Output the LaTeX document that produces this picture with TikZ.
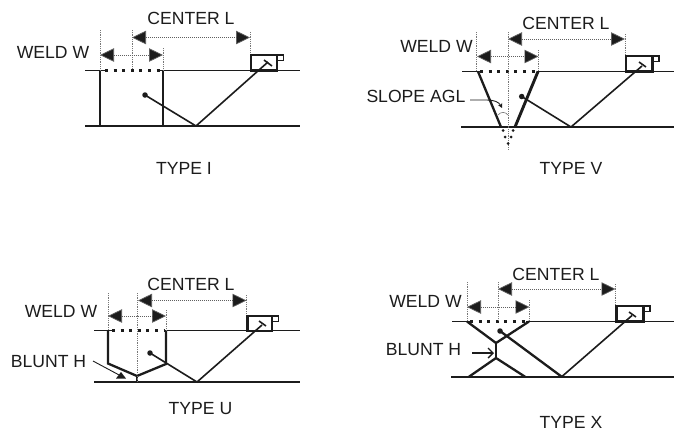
\documentclass[tikz,border=0pt]{standalone}
\usepackage{fontspec}
\setmainfont{Liberation Sans}
\usetikzlibrary{arrows.meta}
\definecolor{ink}{HTML}{1C1C1C}
\tikzset{
  x=1pt,y=-1pt,
  label text/.style={inner sep=0pt,text=ink,font=\fontsize{17.6}{20}\selectfont},
  plate/.style={draw=ink,line width=1.8pt},
  plate heavy/.style={draw=ink,line width=2.4pt},
  wall/.style={draw=ink,line width=2.3pt,line join=miter},
  wall heavy/.style={draw=ink,line width=2.9pt,line join=miter},
  ray/.style={draw=ink,line width=1.6pt},
  weld dots/.style={draw=ink,line width=2.1pt,dash pattern=on 3pt off 5.6pt},
  guide/.style={draw=ink!60,line width=.6pt,dash pattern=on .9pt off .9pt},
  dimline/.style={draw=ink!70,line width=.7pt,dash pattern=on 1pt off 1pt,
     {Triangle[length=14pt,width=13.5pt,fill=ink]}-{Triangle[length=14pt,width=13.5pt,fill=ink]}},
  probe box/.style={draw=ink,line width=2.1pt,fill=none},
  probe tab/.style={draw=ink,line width=1.5pt},
  focus dot/.style={circle,fill=ink,inner sep=0pt,minimum size=5.5pt},
  cue/.style={draw=ink,line width=.9pt}
}
\newcommand{\probeset}[5]{%
  \coordinate (#1bl) at (#2,#5);
  \coordinate (#1tr) at (#3,#4);
  \draw[probe box] (#1bl) rectangle (#1tr);
  \coordinate (#1ta) at (#3,#4);
  \coordinate (#1tb) at ({#3+6.5},{#4+5.5});
  \draw[probe tab] (#1ta) rectangle (#1tb);
}
\begin{document}
\begin{tikzpicture}
\useasboundingbox (0,0) rectangle (674,432);
\fill[white] (0,0) rectangle (674,432);

%% TYPE I
\coordinate (Ia) at (85,70.5); \coordinate (Ib) at (105,70.5); \coordinate (Ic) at (160,70.5); \coordinate (Id) at (300,70.5);
\coordinate (Ie) at (85,126); \coordinate (If) at (300,126);
\draw[plate] (Ia)--(Ib); \draw[plate] (Ic)--(Id); \draw[plate] (Ie)--(If);
\draw[weld dots] (Ib)--(Ic);
\coordinate (Iw1) at (100,70.5); \coordinate (Iw2) at (100,126); \coordinate (Iw3) at (163,70.5); \coordinate (Iw4) at (163,126);
\draw[wall] (Iw1)--(Iw2); \draw[wall] (Iw3)--(Iw4);
\coordinate (Ig1) at (100,30); \coordinate (Ig2) at (132,30); \coordinate (Ig3) at (132,68); \coordinate (Ig4) at (163,48); \coordinate (Ig5) at (250,32); \coordinate (Ig6) at (250,55);
\draw[guide] (Ig1)--(Iw1); \draw[guide] (Ig2)--(Ig3); \draw[guide] (Ig4)--(Iw3); \draw[guide] (Ig5)--(Ig6);
\coordinate (Id1) at (132,37.5); \coordinate (Id2) at (250,37.5); \coordinate (Id3) at (100,55); \coordinate (Id4) at (163,55);
\draw[dimline] (Id1)--(Id2); \draw[dimline] (Id3)--(Id4);
\probeset{Ip}{251}{277}{55}{70.5}
\node[focus dot] (Ifoc) at (145,95) {};
\coordinate (Ibn) at (196,126); \coordinate (Ipr) at (268,62); \coordinate (Ih1) at (264,60); \coordinate (Ih2) at (272,66);
\draw[ray] (Ifoc.center)--(Ibn)--(Ipr); \draw[ray] (Ih1)--(Ih2);
\node[label text] (Itw) at (53,52) {WELD W};
\node[label text] (Itc) at (191,18) {CENTER L};
\node[label text] (Itt) at (184,168) {TYPE I};

%% TYPE V
\coordinate (Va) at (462,71.5); \coordinate (Vb) at (480,71.5); \coordinate (Vc) at (537,71.5); \coordinate (Vd) at (674,71.5);
\coordinate (Ve) at (461,127); \coordinate (Vf) at (674,127);
\draw[plate] (Va)--(Vb); \draw[plate] (Vc)--(Vd); \draw[plate] (Ve)--(Vf);
\draw[weld dots] (Vb)--(Vc);
\coordinate (Vw1) at (478,71.5); \coordinate (Vw2) at (501,127); \coordinate (Vw3) at (538,71.5); \coordinate (Vw4) at (515,127);
\draw[wall] (Vw1)--(Vw2); \draw[wall heavy] (Vw3)--(Vw4);
\coordinate (Vg1) at (476.5,32); \coordinate (Vg1b) at (476.5,71); \coordinate (Vg2) at (508,32); \coordinate (Vg3) at (508,150); \coordinate (Vg4) at (538.5,50); \coordinate (Vg4b) at (538.5,71); \coordinate (Vg5) at (625,34); \coordinate (Vg6) at (625,56);
\draw[guide] (Vg1)--(Vg1b); \draw[guide] (Vg2)--(Vg3); \draw[guide] (Vg4)--(Vg4b); \draw[guide] (Vg5)--(Vg6);
\coordinate (Vd1) at (508,39); \coordinate (Vd2) at (625,39); \coordinate (Vd3) at (477,56.5); \coordinate (Vd4) at (538.5,56.5);
\draw[dimline] (Vd1)--(Vd2); \draw[dimline] (Vd3)--(Vd4);
\probeset{Vp}{626}{652.5}{56}{71.5}
\node[focus dot] (Vfoc) at (521.7,96.5) {};
\coordinate (Vbn) at (571,127); \coordinate (Vpr) at (642,66); \coordinate (Vh1) at (639,62); \coordinate (Vh2) at (646,67);
\draw[ray] (Vfoc.center)--(Vbn)--(Vpr); \draw[ray] (Vh1)--(Vh2);
\foreach \i/\dx/\dy in {1/503/130.5,2/513/130.5,3/505/137,4/511/137,5/508/143.5}
  \node[circle,fill=ink,inner sep=0pt,minimum size=3pt] (Vdot\i) at (\dx,\dy) {};
\node[label text] (Vtw) at (436.5,46) {WELD W};
\node[label text] (Vtc) at (566,23) {CENTER L};
\node[label text] (Vtt) at (571,168) {TYPE V};
\node[label text,anchor=east] (Vts) at (465.5,96) {SLOPE AGL};
\coordinate (Vs1) at (470,100); \coordinate (Vs2) at (487,100); \coordinate (Vs3) at (502,108);
\draw[cue,-{Stealth[length=4.5pt,width=4.5pt]}] (Vs1)--(Vs2) .. controls (494,100) and (499,102) .. (Vs3);
\coordinate (Va1) at (498,115); \coordinate (Va2) at (508,115);
\draw[draw=ink!70,line width=.5pt] (Va1) .. controls (501,111.5) and (505,111.5) .. (Va2);

%% TYPE U
\coordinate (Ua) at (94,330.5); \coordinate (Ub) at (112,330.5); \coordinate (Uc) at (164,330.5); \coordinate (Ud) at (300,330.5);
\coordinate (Ue) at (94,382); \coordinate (Uf) at (300,382);
\draw[plate] (Ua)--(Ub); \draw[plate] (Uc)--(Ud); \draw[plate] (Ue)--(Uf);
\draw[weld dots] (Ub)--(Uc);
\coordinate (Uw1) at (108,330.5); \coordinate (Uw2) at (108,363.5); \coordinate (Uw3) at (137,376); \coordinate (Uw4) at (166,364); \coordinate (Uw5) at (166,330.5); \coordinate (Uw6) at (137,382);
\draw[wall] (Uw1)--(Uw2)--(Uw3)--(Uw4)--(Uw5); \draw[wall] (Uw3)--(Uw6);
\coordinate (Ug1) at (108,293); \coordinate (Ug1b) at (108,330); \coordinate (Ug2) at (137.5,293); \coordinate (Ug3) at (137.5,382); \coordinate (Ug4) at (166,310); \coordinate (Ug4b) at (166,330); \coordinate (Ug5) at (246.5,295); \coordinate (Ug6) at (246.5,316);
\draw[guide] (Ug1)--(Ug1b); \draw[guide] (Ug2)--(Ug3); \draw[guide] (Ug4)--(Ug4b); \draw[guide] (Ug5)--(Ug6);
\coordinate (Ud1) at (138,300.5); \coordinate (Ud2) at (246.5,300.5); \coordinate (Ud3) at (108,316); \coordinate (Ud4) at (166,316);
\draw[dimline] (Ud1)--(Ud2); \draw[dimline] (Ud3)--(Ud4);
\probeset{Up}{247.5}{272}{316}{331}
\node[focus dot] (Ufoc) at (150,353) {};
\coordinate (Ubn) at (197,382); \coordinate (Upr) at (262,325); \coordinate (Uh1) at (259,321); \coordinate (Uh2) at (266,326);
\draw[ray] (Ufoc.center)--(Ubn)--(Upr); \draw[ray] (Uh1)--(Uh2);
\node[label text] (Utw) at (61,311) {WELD W};
\node[label text] (Utc) at (191,284) {CENTER L};
\node[label text] (Utt) at (200.5,409) {TYPE U};
\node[label text] (Utb) at (48.5,362) {BLUNT H};
\coordinate (Ul1) at (93,361); \coordinate (Ul2) at (121,376);
\draw[cue] (Ul1)--(Ul2);
\coordinate (Ut1) at (116,378.5); \coordinate (Ut2) at (126,378.5); \coordinate (Ut3) at (121,372);
\fill[ink] (Ut1)--(Ut2)--(Ut3)--cycle;

%% TYPE X
\coordinate (Xa) at (452,321.5); \coordinate (Xb) at (470,321.5); \coordinate (Xc) at (526,321.5); \coordinate (Xd) at (674,321.5);
\coordinate (Xe) at (451,376.7); \coordinate (Xf) at (674,376.7);
\draw[plate] (Xa)--(Xb); \draw[plate] (Xc)--(Xd); \draw[plate heavy] (Xe)--(Xf);
\draw[weld dots] (Xb)--(Xc);
\coordinate (Xw1) at (467,321.5); \coordinate (Xw2) at (496,343); \coordinate (Xw3) at (529,321.5); \coordinate (Xw4) at (496,358); \coordinate (Xw5) at (469,376.7); \coordinate (Xw6) at (525,376.7);
\draw[wall] (Xw1)--(Xw2)--(Xw3); \draw[wall] (Xw2)--(Xw4); \draw[wall] (Xw5)--(Xw4)--(Xw6);
\coordinate (Xg1) at (467,282); \coordinate (Xg1b) at (467,321); \coordinate (Xg2) at (498,282); \coordinate (Xg3) at (498,320); \coordinate (Xg4) at (529.5,300); \coordinate (Xg4b) at (529.5,321); \coordinate (Xg5) at (615.5,284); \coordinate (Xg6) at (615.5,306);
\draw[guide] (Xg1)--(Xg1b); \draw[guide] (Xg2)--(Xg3); \draw[guide] (Xg4)--(Xg4b); \draw[guide] (Xg5)--(Xg6);
\coordinate (Xd1) at (498,289); \coordinate (Xd2) at (615.5,289); \coordinate (Xd3) at (467,307); \coordinate (Xd4) at (529.5,307);
\draw[dimline] (Xd1)--(Xd2); \draw[dimline] (Xd3)--(Xd4);
\probeset{Xp}{616.5}{643.5}{306}{321.5}
\node[focus dot] (Xfoc) at (500,331) {};
\coordinate (Xbn) at (561.7,376.7); \coordinate (Xpr) at (632,315.5); \coordinate (Xh1) at (629,312); \coordinate (Xh2) at (636,317);
\draw[ray,line width=2.3pt] (Xfoc.center)--(Xbn); \draw[ray] (Xbn)--(Xpr); \draw[ray] (Xh1)--(Xh2);
\node[label text] (Xtw) at (425.5,301) {WELD W};
\node[label text] (Xtc) at (556,274) {CENTER L};
\node[label text] (Xtt) at (571,422) {TYPE X};
\node[label text] (Xtb) at (423.5,350) {BLUNT H};
\coordinate (Xl1) at (472,353); \coordinate (Xl2) at (494,353);
\draw[draw=ink,line width=1.4pt,-{Straight Barb[length=5pt,width=10pt]}] (Xl1)--(Xl2);
\end{tikzpicture}
\end{document}
